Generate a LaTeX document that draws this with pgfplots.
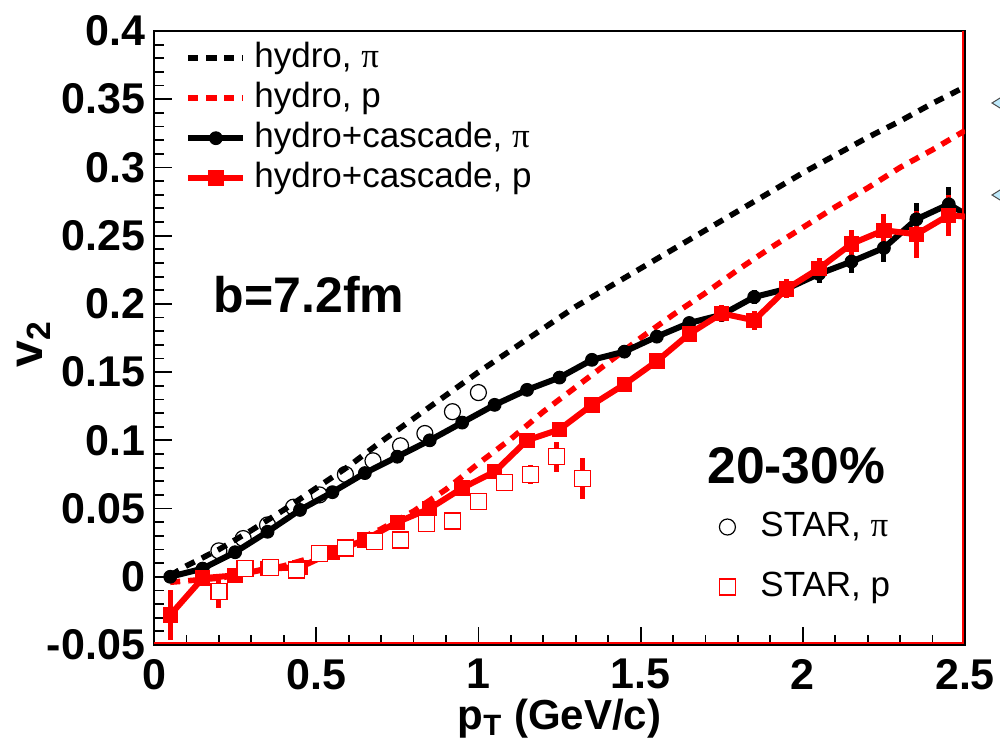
\documentclass[border=0pt]{standalone}
\usepackage{fontspec}
\setmainfont{Liberation Sans}
\newfontfamily\grfont{Liberation Serif}
\usepackage{pgfplots}
\usepackage{pgfplotstable}
\pgfplotsset{compat=1.18}

\pgfplotstableread{
x y
0.05 0.001
0.10 0.008
0.20 0.020
0.30 0.034
0.40 0.049
0.50 0.065
0.60 0.081
0.70 0.099
0.80 0.116
0.90 0.133
1.00 0.150
1.10 0.166
1.20 0.182
1.30 0.198
1.40 0.212
1.50 0.226
1.60 0.240
1.70 0.254
1.80 0.268
1.90 0.282
2.00 0.296
2.10 0.309
2.20 0.322
2.30 0.334
2.40 0.347
2.50 0.359
}\hydropi

\pgfplotstableread{
x y
0.05 -0.004
0.10 -0.003
0.20 -0.001
0.30 0.003
0.40 0.008
0.50 0.015
0.60 0.024
0.70 0.035
0.80 0.048
0.90 0.064
1.00 0.083
1.10 0.101
1.20 0.121
1.30 0.139
1.40 0.157
1.50 0.175
1.60 0.192
1.70 0.208
1.80 0.225
1.90 0.241
2.00 0.256
2.10 0.271
2.20 0.285
2.30 0.300
2.40 0.313
2.50 0.327
}\hydrop

\pgfplotstableread{
x y e
0.05 0.000 0.003
0.15 0.006 0.003
0.25 0.018 0.003
0.35 0.033 0.003
0.45 0.049 0.003
0.55 0.062 0.003
0.65 0.076 0.003
0.75 0.088 0.003
0.85 0.100 0.003
0.95 0.113 0.003
1.05 0.126 0.003
1.15 0.137 0.003
1.25 0.146 0.003
1.35 0.159 0.004
1.45 0.165 0.004
1.55 0.176 0.004
1.65 0.186 0.004
1.75 0.192 0.005
1.85 0.205 0.005
1.95 0.211 0.006
2.05 0.222 0.007
2.15 0.231 0.008
2.25 0.241 0.010
2.35 0.262 0.012
2.45 0.273 0.013
2.55 0.259 0.000
}\hcpi

\pgfplotstableread{
x y e
0.05 -0.028 0.018
0.15 -0.001 0.004
0.25 0.001 0.004
0.35 0.006 0.004
0.45 0.007 0.004
0.55 0.018 0.004
0.65 0.027 0.004
0.75 0.040 0.004
0.85 0.050 0.004
0.95 0.065 0.005
1.05 0.077 0.005
1.15 0.100 0.005
1.25 0.108 0.005
1.35 0.126 0.005
1.45 0.141 0.005
1.55 0.158 0.006
1.65 0.178 0.006
1.75 0.193 0.006
1.85 0.188 0.007
1.95 0.211 0.007
2.05 0.226 0.008
2.15 0.244 0.010
2.25 0.254 0.012
2.35 0.251 0.017
2.45 0.265 0.015
2.55 0.263 0.000
}\hcp

\pgfplotstableread{
x y
0.200 0.019
0.275 0.028
0.350 0.038
0.430 0.051
0.510 0.060
0.590 0.075
0.675 0.085
0.760 0.096
0.835 0.105
0.920 0.121
1.000 0.135
}\starpi

\pgfplotstableread{
x y e
0.20 -0.011 0.012
0.28 0.006 0.003
0.36 0.007 0.003
0.44 0.005 0.003
0.51 0.017 0.003
0.59 0.021 0.003
0.68 0.026 0.004
0.76 0.027 0.004
0.84 0.039 0.004
0.92 0.041 0.004
1.00 0.055 0.005
1.08 0.069 0.005
1.16 0.075 0.007
1.24 0.088 0.011
1.32 0.072 0.015
}\starp

\begin{document}
\begin{tikzpicture}
\pgfplotsset{
  common/.style={
    at={(0,0)}, anchor=south west, scale only axis,
    width=405.5pt, height=307pt,
    xmin=0, xmax=2.5, ymin=-0.05, ymax=0.4,
  },
}
\begin{axis}[common,
  xtick={0,0.5,1,1.5,2,2.5},
  xticklabels={0,0.5,1,1.5,2,2.5},
  ytick={-0.05,0,0.05,0.1,0.15,0.2,0.25,0.3,0.35,0.4},
  yticklabels={-0.05,0,0.05,0.1,0.15,0.2,0.25,0.3,0.35,0.4},
  minor x tick num=4, minor y tick num=4,
  tick pos=left, tick align=inside,
  major tick length=9pt, minor tick length=5pt,
  every tick/.append style={black, line width=0.9pt},
  axis line style={line width=1.2pt},
  ticklabel style={font=\fontsize{21.5}{21.5}\selectfont\bfseries},
  xticklabel style={inner sep=0pt, yshift=-7pt},
  yticklabel style={xshift=-1pt},
  xlabel={p\textsubscript{T} (GeV/c)},
  ylabel={v\textsubscript{2}},
  xlabel style={font=\fontsize{21}{21}\selectfont\bfseries, inner sep=0pt, at={(axis description cs:0.5,-0.12)}, anchor=center},
  ylabel style={font=\fontsize{24}{24}\selectfont\bfseries, at={(axis description cs:-0.148,0.49)}, anchor=center},
  legend style={at={(rel axis cs:0.0382,0.858)}, anchor=west, draw=none, fill=none,
    font=\fontsize{17.5}{17.5}\selectfont, row sep=3pt, inner sep=0pt,
    nodes={inner sep=0pt, text height=13pt, text depth=4pt},
    /tikz/every odd column/.append style={column sep=4pt}},
  legend cell align=left,
  legend image code/.code={\draw[mark repeat=2,mark phase=2,#1] plot coordinates {(0pt,0pt) (13.75pt,0pt) (27.5pt,0pt)};},
]
\addplot[black, line width=2.8pt, dash pattern=on 5pt off 4pt] table {\hydropi};
\addlegendentry{hydro, {\grfont π}}
\addplot[red, line width=2.8pt, dash pattern=on 5pt off 4pt] table {\hydrop};
\addlegendentry{hydro, p}
\addplot[black, line width=3pt, mark=*, mark size=3.2pt, mark options={line width=0.5pt, solid},
  error bars/.cd, y dir=both, y explicit, error mark=none, error bar style={line width=2.5pt}]
  table[y error=e] {\hcpi};
\addlegendentry{hydro+cascade, {\grfont π}}
\addplot[red, line width=3pt, mark=square*, mark size=3.6pt, mark options={line width=0.5pt, solid},
  error bars/.cd, y dir=both, y explicit, error mark=none, error bar style={line width=2.5pt}]
  table[y error=e] {\hcp};
\addlegendentry{hydro+cascade, p}
\draw[red, line width=1pt] ([yshift=1pt]rel axis cs:0,0) -- ([xshift=-1pt,yshift=1pt]rel axis cs:1,0) -- ([xshift=-1pt]rel axis cs:1,1);
\node[font=\fontsize{25}{25}\selectfont\bfseries] at (axis cs:0.478,0.207) {b=7.2fm};
\node[font=\fontsize{25.8}{25.8}\selectfont\bfseries] at (axis cs:1.98,0.081) {20-30\%};
\end{axis}

\begin{axis}[common, hide axis,
  legend style={at={(rel axis cs:0.6967,0.1433)}, anchor=west, draw=none, fill=none,
    font=\fontsize{17.5}{17.5}\selectfont, row sep=13pt, inner sep=0pt,
    nodes={inner sep=0pt, text height=13pt, text depth=4pt},
    /tikz/every odd column/.append style={column sep=12.5pt}},
  legend cell align=left,
  legend image code/.code={\draw[#1] plot coordinates {(4.5pt,0pt)};},
]
\addplot[only marks, mark=o, mark size=4pt, black, mark options={line width=0.6pt}] table {\starpi};
\addlegendentry{STAR, {\grfont π}}
\addplot[only marks, mark=square*, mark size=4pt, red, mark options={line width=0.7pt, draw=red, fill=white},
  error bars/.cd, y dir=both, y explicit, error mark=none, error bar style={line width=2.5pt}]
  table[y error=e] {\starp};
\addlegendentry{STAR, p}
\end{axis}

\draw[fill=cyan!25!white, draw=black!70, line width=0.5pt] (423pt,273.5pt) -- (419pt,271pt) -- (423pt,268.5pt);
\draw[fill=cyan!25!white, draw=black!70, line width=0.5pt] (423pt,227.5pt) -- (419pt,225pt) -- (423pt,222.5pt);
\pgfresetboundingbox
\path[use as bounding box] (-77pt,-50pt) rectangle (423pt,322.5pt);
\end{tikzpicture}
\end{document}
